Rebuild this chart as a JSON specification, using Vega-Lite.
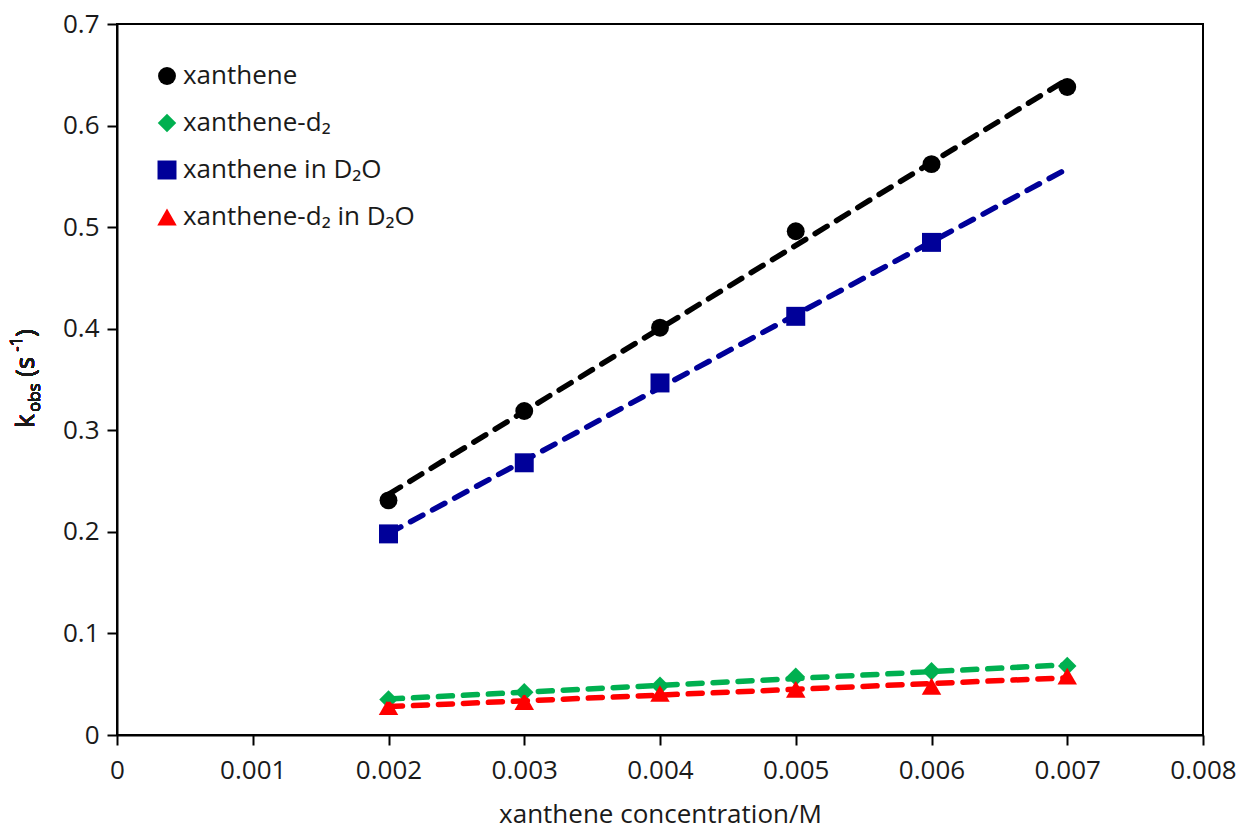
{
  "$schema": "https://vega.github.io/schema/vega-lite/v6.json",
  "width": 1086,
  "height": 711,
  "autosize": {"type": "none"},
  "padding": {"left": 117, "top": 24, "right": 38, "bottom": 94},
  "background": "white",
  "config": {
    "font": "Open Sans",
    "view": {"stroke": "black", "strokeWidth": 2},
    "axis": {
      "grid": false,
      "domainColor": "black",
      "domainWidth": 2,
      "tickColor": "black",
      "tickWidth": 2,
      "tickSize": 10,
      "labelFont": "Open Sans",
      "labelFontSize": 26,
      "labelColor": "#1a1a1a",
      "titleFont": "Open Sans",
      "titleFontSize": 26,
      "titleFontWeight": "normal",
      "titleColor": "#1a1a1a"
    },
    "legend": {
      "labelFont": "Open Sans",
      "labelFontSize": 26,
      "labelColor": "#1a1a1a",
      "labelLimit": 0
    }
  },
  "datasets": {
    "kobs": [
      {"series": "xanthene", "conc": 0.002, "k": 0.231},
      {"series": "xanthene", "conc": 0.003, "k": 0.319},
      {"series": "xanthene", "conc": 0.004, "k": 0.401},
      {"series": "xanthene", "conc": 0.005, "k": 0.496},
      {"series": "xanthene", "conc": 0.006, "k": 0.562},
      {"series": "xanthene", "conc": 0.007, "k": 0.638},
      {"series": "xanthene-d₂", "conc": 0.002, "k": 0.035},
      {"series": "xanthene-d₂", "conc": 0.003, "k": 0.042},
      {"series": "xanthene-d₂", "conc": 0.004, "k": 0.0485},
      {"series": "xanthene-d₂", "conc": 0.005, "k": 0.0574},
      {"series": "xanthene-d₂", "conc": 0.006, "k": 0.0627},
      {"series": "xanthene-d₂", "conc": 0.007, "k": 0.068},
      {"series": "xanthene in D₂O", "conc": 0.002, "k": 0.198},
      {"series": "xanthene in D₂O", "conc": 0.003, "k": 0.268},
      {"series": "xanthene in D₂O", "conc": 0.004, "k": 0.3466},
      {"series": "xanthene in D₂O", "conc": 0.005, "k": 0.4122},
      {"series": "xanthene in D₂O", "conc": 0.006, "k": 0.485},
      {"series": "xanthene-d₂ in D₂O", "conc": 0.002, "k": 0.028},
      {"series": "xanthene-d₂ in D₂O", "conc": 0.003, "k": 0.033},
      {"series": "xanthene-d₂ in D₂O", "conc": 0.004, "k": 0.041},
      {"series": "xanthene-d₂ in D₂O", "conc": 0.005, "k": 0.045},
      {"series": "xanthene-d₂ in D₂O", "conc": 0.006, "k": 0.048},
      {"series": "xanthene-d₂ in D₂O", "conc": 0.007, "k": 0.058}
    ]
  },
  "data": {"name": "kobs"},
  "layer": [
    {
      "mark": {"type": "point", "filled": true, "opacity": 1, "strokeWidth": 0},
      "encoding": {
        "x": {
          "field": "conc",
          "type": "quantitative",
          "scale": {"domain": [0, 0.008], "nice": false, "zero": false},
          "axis": {
            "values": [0, 0.001, 0.002, 0.003, 0.004, 0.005, 0.006, 0.007, 0.008],
            "labelExpr": "datum.value === 0 ? '0' : format(datum.value, '.3f')",
            "labelFlush": false,
            "labelPadding": 12,
            "title": "xanthene concentration/M",
            "titlePadding": 18
          }
        },
        "y": {
          "field": "k",
          "type": "quantitative",
          "scale": {"domain": [0, 0.7], "nice": false, "zero": false},
          "axis": {
            "values": [0, 0.1, 0.2, 0.3, 0.4, 0.5, 0.6, 0.7],
            "labelExpr": "datum.value === 0 ? '0' : format(datum.value, '.1f')",
            "labelPadding": 8,
            "title": null
          }
        },
        "color": {
          "field": "series",
          "type": "nominal",
          "scale": {
            "domain": ["xanthene", "xanthene-d₂", "xanthene in D₂O", "xanthene-d₂ in D₂O"],
            "range": ["#000000", "#00b050", "#000099", "#ff0000"]
          },
          "legend": {
            "title": null,
            "orient": "none",
            "legendX": 37,
            "legendY": 39,
            "symbolSize": 220,
            "symbolStrokeWidth": 0,
            "labelOffset": 3,
            "rowPadding": 21,
            "padding": 0
          }
        },
        "shape": {
          "field": "series",
          "type": "nominal",
          "scale": {
            "domain": ["xanthene", "xanthene-d₂", "xanthene in D₂O", "xanthene-d₂ in D₂O"],
            "range": ["circle", "diamond", "square", "triangle-up"]
          },
          "legend": {
            "title": null,
            "orient": "none",
            "legendX": 37,
            "legendY": 39,
            "symbolSize": 220,
            "symbolStrokeWidth": 0,
            "labelOffset": 3,
            "rowPadding": 21,
            "padding": 0
          }
        },
        "size": {
          "field": "series",
          "type": "nominal",
          "scale": {
            "domain": ["xanthene", "xanthene-d₂", "xanthene in D₂O", "xanthene-d₂ in D₂O"],
            "range": [320, 380, 400, 420]
          },
          "legend": null
        }
      }
    },
    {
      "transform": [
        {"regression": "k", "on": "conc", "groupby": ["series"], "extent": [0.002, 0.007]}
      ],
      "mark": {"type": "line", "strokeWidth": 5.5, "strokeDash": [14, 11], "strokeCap": "round"},
      "encoding": {
        "x": {"field": "conc", "type": "quantitative"},
        "y": {"field": "k", "type": "quantitative"},
        "color": {"field": "series", "type": "nominal", "legend": null}
      }
    },
    {
      "mark": {"type": "text", "angle": 270, "align": "left", "baseline": "alphabetic", "fontSize": 26, "color": "#1a1a1a", "font": "Open Sans"},
      "encoding": {
        "x": {"datum": -0.000611, "type": "quantitative"},
        "y": {"datum": 0.3022, "type": "quantitative"},
        "text": {"value": "k"}
      }
    },
    {
      "mark": {"type": "text", "angle": 270, "align": "left", "baseline": "alphabetic", "fontSize": 17, "color": "#1a1a1a", "font": "Open Sans"},
      "encoding": {
        "x": {"datum": -0.000570, "type": "quantitative"},
        "y": {"datum": 0.318, "type": "quantitative"},
        "text": {"value": "obs"}
      }
    },
    {
      "mark": {"type": "text", "angle": 270, "align": "left", "baseline": "alphabetic", "fontSize": 26, "color": "#1a1a1a", "font": "Open Sans"},
      "encoding": {
        "x": {"datum": -0.000611, "type": "quantitative"},
        "y": {"datum": 0.3525, "type": "quantitative"},
        "text": {"value": "(s"}
      }
    },
    {
      "mark": {"type": "text", "angle": 270, "align": "left", "baseline": "alphabetic", "fontSize": 17, "color": "#1a1a1a", "font": "Open Sans"},
      "encoding": {
        "x": {"datum": -0.000700, "type": "quantitative"},
        "y": {"datum": 0.3772, "type": "quantitative"},
        "text": {"value": "-1"}
      }
    },
    {
      "mark": {"type": "text", "angle": 270, "align": "left", "baseline": "alphabetic", "fontSize": 26, "color": "#1a1a1a", "font": "Open Sans"},
      "encoding": {
        "x": {"datum": -0.000611, "type": "quantitative"},
        "y": {"datum": 0.392, "type": "quantitative"},
        "text": {"value": ")"}
      }
    }
  ]
}
